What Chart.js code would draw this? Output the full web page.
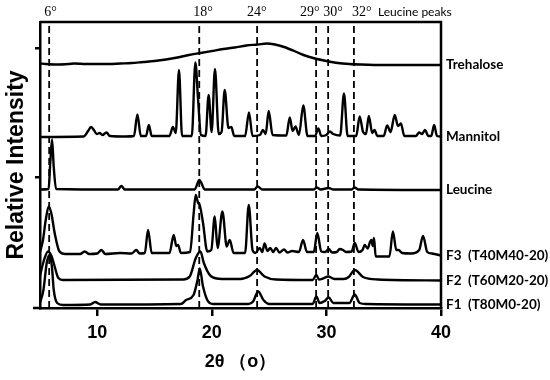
<!DOCTYPE html>
<html>
<head>
<meta charset="utf-8">
<script src="https://cdn.jsdelivr.net/npm/chart.js@4.4.1/dist/chart.umd.min.js"></script>
<style>
  body { margin: 0; background: #fff; }
  canvas { display: block; }
</style>
</head>
<body>
<canvas id="xrdChart" width="550" height="380"></canvas>
<script>
'use strict';

// data -------------------------------------------------------------------
const xTicks = [10, 20, 30, 40];
const yTicks = [131, 260];
const peakLines = [5.8, 18.9, 23.95, 29.1, 30.15, 32.4];
const peakLabels = ['6°', '18°', '24°', '29°', '30°', '32°'];
const traceNames = ['Trehalose', 'Mannitol', 'Leucine', 'F3  (T40M40-20)', 'F2  (T60M20-20)', 'F1  (T80M0-20)'];

// [2theta, stacked intensity]
const trehalose = [[5, 244.5], [5.5, 244], [6.5, 243.5], [7.5, 244], [8, 244.5], [9, 244], [10, 244], [11, 244],
  [12, 244.5], [13, 245], [14, 246], [15, 247], [16, 248.5], [17, 250.5], [18, 253], [19, 255], [20, 257],
  [21, 259], [22, 260.5], [23, 262.5], [24, 263.5], [24.8, 264.5], [25.5, 263.5], [26.3, 261], [27.2, 257],
  [28, 253], [29, 249.5], [30, 247], [31, 245], [32, 244], [33, 243.5], [35, 243], [37, 243], [39, 243], [40, 243]];

const mannitol = [[5, 171], [8.8, 171.5], [9.2, 177], [9.45, 181], [9.7, 178], [9.95, 174], [10.2, 175], [10.45, 173],
  [10.8, 175.5], [11.1, 172], [12.5, 171.5], [13.2, 172], [13.5, 193.5], [13.8, 172], [14.25, 172], [14.5, 183],
  [14.75, 172], [16.3, 172], [16.6, 181], [16.85, 175], [17.13, 238], [17.4, 172], [18.25, 172], [18.56, 245.5],
  [18.8, 208], [19.05, 173], [19.45, 172], [19.72, 213], [19.98, 176], [20.27, 239], [20.6, 174], [20.85, 176],
  [21.12, 218], [21.45, 180], [21.7, 181], [21.95, 172], [22.9, 172], [23.24, 195.5], [23.55, 172], [24.2, 173],
  [24.46, 178], [24.7, 174], [24.96, 197], [25.3, 173], [26.5, 172.5], [26.8, 190.5], [27.05, 177], [27.3, 181.5],
  [27.6, 173], [27.98, 202.5], [28.35, 172], [29, 172], [29.3, 179.5], [29.55, 172], [30, 173], [30.3, 176.5],
  [30.6, 174], [31.2, 172.5], [31.53, 214.5], [31.85, 172], [32.6, 172], [32.9, 191.5], [33.2, 176], [33.45, 174],
  [33.7, 192], [34, 175], [34.2, 178], [34.45, 172], [35, 172], [35.3, 182.5], [35.6, 176], [35.96, 193],
  [36.25, 182], [36.5, 184.5], [36.8, 172], [37.8, 172], [38.1, 175.5], [38.35, 174], [38.6, 178], [38.9, 172],
  [39.15, 172], [39.4, 183], [39.65, 172], [40, 171.5]];

const leucine = [[5, 118.5], [5.75, 119], [5.9, 146], [6.05, 168.5], [6.2, 141], [6.4, 119], [11.8, 118.5], [12.1, 122],
  [12.4, 118.5], [18.5, 118.5], [18.9, 128], [19.4, 118.5], [23.7, 118.5], [24, 121.5], [24.4, 118.5], [28.9, 118.5],
  [29.15, 120.5], [29.5, 118.5], [30.2, 120], [30.6, 118.5], [32.2, 118.5], [32.45, 120.5], [32.8, 118.5], [40, 118]];

const f3 = [[5, 56], [5.26, 68], [5.5, 88], [5.76, 101.5], [6, 94], [6.28, 75], [6.7, 56.5], [7.2, 54], [8.5, 54],
  [8.9, 56.5], [9.3, 54], [10, 54.5], [10.36, 58], [10.7, 54], [12, 55], [13, 54.5], [13.4, 58], [13.7, 54.5],
  [14.15, 55], [14.43, 78], [14.75, 55], [16.3, 55], [16.67, 73], [16.9, 62], [17.05, 63], [17.3, 55], [18.1, 56],
  [18.4, 93], [18.59, 113], [18.8, 105], [18.94, 103], [19.23, 85], [19.6, 56.5], [19.95, 58], [20.25, 91.5],
  [20.5, 60], [20.92, 96.5], [21.3, 61.5], [21.56, 68], [21.9, 55], [22.9, 55], [23.22, 103], [23.55, 58],
  [23.8, 55], [24.18, 60], [24.4, 56], [24.6, 64.5], [24.85, 57], [25.1, 60], [25.35, 56], [25.6, 60], [25.9, 55.5],
  [26.3, 58.5], [26.6, 55.5], [27, 57], [27.6, 56], [27.96, 68], [28.3, 56], [28.9, 56], [29.2, 75], [29.55, 56.5],
  [29.9, 56], [30.2, 59], [30.5, 55.5], [30.9, 56], [31.16, 59], [31.45, 58], [31.7, 56], [32.2, 56.5], [32.47, 65],
  [32.8, 56], [33.15, 58], [33.34, 63], [33.6, 59.5], [33.8, 66], [33.92, 68], [34.05, 62], [34.15, 70], [34.3, 51.5],
  [35.5, 51.5], [35.8, 76.5], [36.1, 58], [36.3, 58], [36.6, 55], [37.4, 54.5], [38.1, 58], [38.43, 72], [38.8, 56],
  [39.2, 54.5], [40, 52.5]];

const f2 = [[5, 32], [5.3, 46], [5.7, 56.5], [6, 52], [6.28, 41.5], [6.6, 30], [7, 28], [17.5, 28.5], [18.07, 31.5],
  [18.6, 50], [19, 56.5], [19.3, 45], [19.9, 32], [20.9, 29], [22.5, 29], [23.3, 32], [23.94, 38], [24.6, 31.5],
  [25.6, 28.5], [28.8, 28], [29.12, 33], [29.35, 28.5], [29.7, 29.5], [30.15, 31.5], [30.7, 29], [31.5, 29],
  [31.95, 31], [32.47, 38], [33.2, 31], [34.5, 28.5], [40, 27.5]];

const f1 = [[5, 5], [5.3, 18], [5.6, 46], [5.85, 53], [6.05, 40], [6.2, 18], [6.5, 5], [7, 3], [9.4, 3.5], [9.8, 6],
  [10.3, 3.5], [17.3, 4], [17.75, 8], [18.4, 13], [18.75, 28], [18.94, 39.5], [19.23, 21.5], [19.6, 8], [20.1, 4],
  [23.2, 4], [23.6, 6.5], [24.04, 16.5], [24.5, 8], [25, 4], [28.8, 4], [29.12, 11.5], [29.4, 5], [29.85, 7],
  [30.2, 10.5], [30.6, 5], [32, 5], [32.47, 13.5], [32.9, 5], [33.5, 4], [40, 3.5]];

const allTraces = [trehalose, mannitol, leucine, f3, f2, f1];

// chart ---------------------------------------------------------------------
Chart.defaults.font.family = '"Liberation Sans", Arial, sans-serif';
Chart.defaults.color = '#000';

let datasets = [];
for (let i = 0; i < allTraces.length; i++) {
  datasets.push({
    label: traceNames[i],
    data: allTraces[i].map(p => ({ x: p[0], y: p[1] })),
    showLine: true,
    borderColor: '#000',
    borderWidth: 2.4,
    pointRadius: 0,
    cubicInterpolationMode: 'monotone'
  });
}
for (let i = 0; i < peakLines.length; i++) {
  datasets.push({
    label: peakLabels[i],
    data: [{ x: peakLines[i], y: 0 }, { x: peakLines[i], y: 286 }],
    showLine: true,
    borderColor: '#000',
    borderWidth: 1.8,
    borderDash: [7, 4],
    pointRadius: 0
  });
}

// frame, peak labels and trace names
const annotate = {
  id: 'annotate',
  afterDraw(chart) {
    const { ctx, chartArea: a, scales: { x, y } } = chart;
    ctx.save();
    ctx.strokeStyle = '#000';
    ctx.lineWidth = 2.5;
    ctx.beginPath();
    ctx.moveTo(a.left - 7, a.bottom);
    ctx.lineTo(a.left, a.bottom);
    ctx.moveTo(a.left, a.top);
    ctx.lineTo(a.right, a.top);
    ctx.lineTo(a.right, a.bottom);
    ctx.stroke();

    ctx.fillStyle = '#000';
    ctx.textBaseline = 'middle';
    ctx.font = '14px "Liberation Serif"';
    const shift = [-5, -6, -10, -16, -5, -2];
    for (let i = 0; i < peakLabels.length; i++) {
      ctx.fillText(peakLabels[i], x.getPixelForValue(peakLines[i]) + shift[i], 12);
    }
    ctx.font = '12px Lato';
    ctx.fillText('Leucine peaks', x.getPixelForValue(peakLines[5]) + 24, 12);

    ctx.font = 'bold 13.5px Lato';
    for (let i = 0; i < allTraces.length; i++) {
      let last = allTraces[i][allTraces[i].length - 1];
      ctx.fillText(traceNames[i], a.right + 5, y.getPixelForValue(last[1]));
    }
    ctx.restore();
  }
};

let ctx = document.getElementById('xrdChart').getContext('2d');
let myChart = new Chart(ctx, {
  type: 'scatter',
  data: { datasets: datasets },
  plugins: [annotate],
  options: {
    responsive: false,
    animation: false,
    devicePixelRatio: 1,
    layout: { padding: { top: 22, right: 109, left: 0, bottom: 0 } },
    plugins: { legend: { display: false }, tooltip: { enabled: false } },
    scales: {
      x: {
        type: 'linear',
        min: 5,
        max: 40,
        afterBuildTicks: s => { s.ticks = xTicks.map(v => ({ value: v })); },
        afterFit: s => { s.height = 72; },
        ticks: { font: { size: 18, weight: 'bold' }, color: '#000', padding: 6, maxRotation: 0 },
        grid: { drawOnChartArea: false, tickLength: 8, color: '#000', lineWidth: 2.5 },
        border: { color: '#000', width: 2.5 },
        title: {
          display: true,
          text: '2θ （o）',
          font: { size: 18, weight: 'bold' },
          color: '#000',
          padding: { top: 0, bottom: 7 }
        }
      },
      y: {
        type: 'linear',
        min: 0,
        max: 286,
        afterBuildTicks: s => { s.ticks = yTicks.map(v => ({ value: v })); },
        afterFit: s => { s.width = 40; },
        ticks: { display: false },
        grid: { drawOnChartArea: false, tickLength: 5, color: '#000', lineWidth: 2.5 },
        border: { color: '#000', width: 2.5 },
        title: {
          display: true,
          text: 'Relative Intensity',
          font: { size: 23, weight: 'bold' },
          color: '#000',
          padding: { top: 3, bottom: 0 }
        }
      }
    }
  }
});
</script>
</body>
</html>
